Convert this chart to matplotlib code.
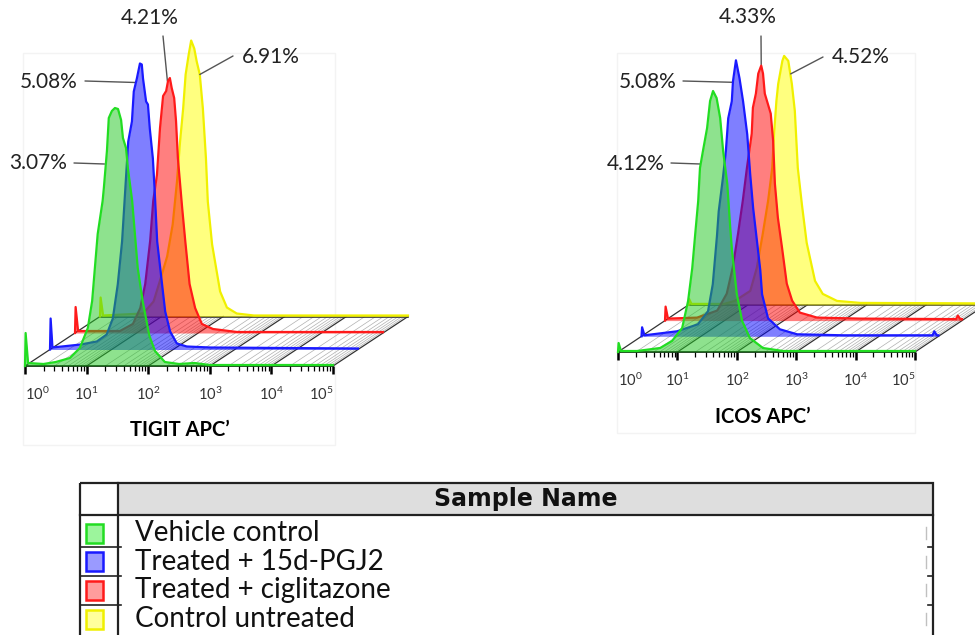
import numpy as np
import matplotlib.pyplot as plt
from matplotlib.patches import Rectangle
from matplotlib.ticker import LogLocator, NullFormatter

plt.rcParams['font.family'] = ['Lato', 'DejaVu Sans']
plt.rcParams['mathtext.fontset'] = 'custom'
plt.rcParams['mathtext.rm'] = 'Liberation Sans'

W, H = 975, 635

samples = ["Vehicle control", "Treated + 15d-PGJ2", "Treated + ciglitazone", "Control untreated"]
line_colors = ['#22dd22', '#1a1aff', '#ff1a1a', '#f0f000']
fill_colors = ['#1fc71f', '#0000ff', '#ff0000', '#ffff00']
swatch_fill = ['#9cf59c', '#9a9aff', '#ff9c9c', '#ffff9c']

# histogram outlines: position in decades (log10 APC), count
tigit_vehicle_dec = [0.0, 0.01, 0.05, 0.3, 0.5, 0.73, 0.89, 1.02, 1.09, 1.18, 1.26, 1.28, 1.33, 1.36, 1.41,
                     1.46, 1.51, 1.56, 1.59, 1.64, 1.67, 1.74, 1.83, 1.91, 2.02, 2.11, 2.27, 2.5, 2.75, 3.0, 5.0]
tigit_vehicle_cnt = [0, 33, 3, 2, 4, 8, 18, 38, 65, 132, 165, 178, 215, 248, 255,
                     258, 257, 246, 228, 218, 198, 165, 98, 65, 30, 15, 4, 2, 3, 1, 1]
tigit_15d_dec = [0.0, 0.01, 0.04, 0.5, 0.76, 0.92, 1.02, 1.10, 1.17, 1.22, 1.27, 1.33, 1.36, 1.41, 1.46, 1.49,
                 1.51, 1.56, 1.59, 1.62, 1.67, 1.70, 1.74, 1.79, 1.87, 1.95, 2.06, 2.22, 2.6, 5.0]
tigit_15d_cnt = [0, 31, 2, 5, 8, 15, 31, 65, 108, 158, 208, 228, 258, 271, 286, 285,
                 271, 248, 245, 221, 191, 158, 108, 81, 38, 18, 6, 3, 2, 1]
tigit_cig_dec = [0.0, 0.01, 0.05, 0.73, 0.94, 1.06, 1.14, 1.22, 1.27, 1.33, 1.38, 1.43, 1.48, 1.51,
                 1.54, 1.57, 1.61, 1.64, 1.67, 1.74, 1.79, 1.86, 1.95, 2.06, 2.24, 2.63, 5.0]
tigit_cig_cnt = [0, 26, 2, 2, 9, 25, 49, 92, 132, 158, 205, 237, 242, 252,
                 255, 245, 235, 212, 175, 125, 92, 49, 25, 9, 4, 1, 1]
tigit_ctrl_dec = [0.0, 0.01, 0.05, 0.7, 0.87, 0.97, 1.09, 1.18, 1.25, 1.30, 1.35, 1.39, 1.44, 1.48,
                  1.53, 1.57, 1.62, 1.67, 1.72, 1.75, 1.82, 1.95, 2.06, 2.22, 2.5, 5.0]
tigit_ctrl_cnt = [0, 19, 1, 3, 15, 35, 60, 92, 135, 175, 208, 242, 262, 276,
                  268, 255, 242, 208, 158, 115, 72, 25, 9, 3, 1, 1]

icos_vehicle_dec = [0.0, 0.01, 0.05, 0.32, 0.71, 0.91, 1.08, 1.18, 1.25, 1.30, 1.35, 1.38, 1.43, 1.50,
                    1.55, 1.60, 1.66, 1.72, 1.77, 1.84, 1.89, 1.92, 2.00, 2.09, 2.22, 2.44, 2.78, 5.0]
icos_vehicle_cnt = [0, 9, 1, 1, 4, 11, 24, 51, 84, 118, 151, 184, 201, 224,
                    251, 261, 254, 234, 201, 168, 124, 101, 58, 31, 14, 4, 1, 1]
icos_15d_dec = [0.0, 0.01, 0.05, 0.6, 0.95, 1.12, 1.20, 1.27, 1.30, 1.37, 1.42, 1.46, 1.52, 1.54, 1.59,
                1.65, 1.71, 1.78, 1.83, 1.88, 1.95, 2.00, 2.03, 2.13, 2.33, 2.62, 3.4, 4.9, 4.93, 4.97, 5.0]
icos_15d_cnt = [0, 9, 1, 5, 12, 25, 52, 100, 125, 158, 185, 218, 235, 255, 276,
                258, 235, 202, 162, 128, 92, 66, 42, 18, 7, 2, 1, 1, 5, 1, 1]
icos_cig_dec = [0.0, 0.01, 0.05, 0.54, 0.88, 1.04, 1.14, 1.23, 1.31, 1.38, 1.46, 1.48, 1.53, 1.57, 1.62, 1.65,
                1.68, 1.73, 1.78, 1.82, 1.85, 1.90, 1.97, 2.05, 2.14, 2.27, 2.56, 3.28, 4.9, 4.93, 4.97, 5.0]
icos_cig_cnt = [0, 14, 2, 3, 10, 27, 53, 87, 120, 153, 187, 213, 227, 247, 255, 247,
                227, 217, 207, 180, 137, 103, 73, 37, 20, 8, 3, 2, 1.5, 5, 1.5, 1.5]
icos_ctrl_dec = [0.0, 0.01, 0.05, 0.6, 0.78, 1.04, 1.15, 1.25, 1.34, 1.41, 1.44, 1.48, 1.51, 1.58, 1.61,
                 1.68, 1.74, 1.79, 1.84, 1.91, 1.99, 2.13, 2.26, 2.50, 2.89, 5.0]
icos_ctrl_cnt = [0, 6, 1, 1, 4, 14, 37, 71, 104, 137, 171, 204, 221, 244, 249,
                 244, 221, 194, 137, 100, 62, 24, 11, 4, 2, 1.5]

tigit_pct = ["3.07%", "5.08%", "4.21%", "6.91%"]
icos_pct = ["4.12%", "5.08%", "4.33%", "4.52%"]

tigit = [(tigit_vehicle_dec, tigit_vehicle_cnt), (tigit_15d_dec, tigit_15d_cnt),
         (tigit_cig_dec, tigit_cig_cnt), (tigit_ctrl_dec, tigit_ctrl_cnt)]
icos = [(icos_vehicle_dec, icos_vehicle_cnt), (icos_15d_dec, icos_15d_cnt),
        (icos_cig_dec, icos_cig_cnt), (icos_ctrl_dec, icos_ctrl_cnt)]

fig = plt.figure(figsize=(W / 100, H / 100), dpi=100)

# overlay in pixel units (top-left origin) for text, table and frames
over = fig.add_axes([0, 0, 1, 1])
over.set_xlim(0, W)
over.set_ylim(H, 0)
over.axis('off')


def panel(x0, base, w, dx, dy, curves):
    ax = fig.add_axes([x0 / W, (H - base) / H, w / W, 300 / H])
    ax.set_xscale('log')
    ax.set_xlim(1, 1e5)
    ax.set_ylim(0, 300)
    ax.patch.set_alpha(0)
    s = dx / (w / 5.0)   # depth shift of one layer, in decades
    back = len(curves) - 1
    shift = 10 ** (back * s)

    # hatched floor
    for d in range(5):
        for m in range(1, 10):
            t = m * 10.0 ** d
            major = m == 1
            ax.plot([t, t * shift], [0, back * dy], color='#333333' if major else '#b0b0b0',
                    lw=0.9 if major else 0.5, clip_on=False, zorder=1)
    ax.plot([1e5, 1e5 * shift], [0, back * dy], color='#333333', lw=0.9, clip_on=False, zorder=1)
    ax.plot([shift, 1e5 * shift], [back * dy, back * dy], color='#333333', lw=1.2, clip_on=False, zorder=1)

    for k in range(back, -1, -1):
        u, c = curves[k]
        x = 10 ** (np.array(u) + k * s)
        y0 = k * dy
        y = y0 + np.array(c)
        z = 2 + (back - k)
        ax.fill_between(x, y0, y, color=fill_colors[k], alpha=0.5, lw=0, clip_on=False, zorder=z)
        ax.plot(x, y, color=line_colors[k], lw=1.6, clip_on=False, zorder=z + 0.5)

    ax.set_xticks(10.0 ** np.arange(6), labels=[r'$\mathregular{10^{%d}}$' % i for i in range(6)])
    ax.xaxis.set_minor_locator(LogLocator(base=10, subs=np.arange(2, 10)))
    ax.xaxis.set_minor_formatter(NullFormatter())
    ax.tick_params(axis='x', which='major', length=6, width=1.8, direction='out', pad=8,
                   labelsize=10.5, labelcolor='#333333')
    ax.tick_params(axis='x', which='minor', length=3.5, width=0.9, direction='out')
    labs = ax.get_xticklabels()
    labs[0].set_ha('left')
    labs[-1].set_ha('right')
    ax.yaxis.set_visible(False)
    for side in ['left', 'top', 'right']:
        ax.spines[side].set_visible(False)
    ax.spines['bottom'].set_linewidth(1.2)
    return ax, s


def leader(ax, s, dy, k, u, c, start):
    ax.annotate('', xy=(10 ** (u + k * s), k * dy + c), xytext=start, textcoords=over.transData,
                arrowprops=dict(arrowstyle='-', color='#555555', lw=1, shrinkA=0, shrinkB=0),
                annotation_clip=False)


# faint frames round the two plots
over.add_patch(Rectangle((23, 53), 312, 392, fill=False, ec='#f3f3f3', lw=1))
over.add_patch(Rectangle((617, 53), 298, 380, fill=False, ec='#f3f3f3', lw=1))

# TIGIT panel
ax1, s1 = panel(25, 366, 308, 25, 16.5, tigit)
txt = dict(fontsize=15, color='#222222', va='center')
over.text(67, 163, tigit_pct[0], ha='right', **txt)
leader(ax1, s1, 16.5, 0, 1.29, 202, (74, 163))
over.text(78, 82, tigit_pct[1], ha='right', **txt)
leader(ax1, s1, 16.5, 1, 1.39, 267, (85, 81))
over.text(150, 18, tigit_pct[2], ha='center', **txt)
leader(ax1, s1, 16.5, 2, 1.50, 252, (163, 36))
over.text(242, 57, tigit_pct[3], ha='left', **txt)
leader(ax1, s1, 16.5, 3, 1.62, 242, (233, 56))
over.text(180, 430, 'TIGIT APC\u2019', fontsize=14.5, fontweight='bold', ha='center', va='center')

# ICOS panel
ax2, s2 = panel(618, 352, 297, 23.5, 15.7, icos)
over.text(665, 164, icos_pct[0], ha='right', **txt)
leader(ax2, s2, 15.7, 0, 1.39, 188, (671, 163))
over.text(677, 82, icos_pct[1], ha='right', **txt)
leader(ax2, s2, 15.7, 1, 1.54, 254, (683, 81))
over.text(748, 17, icos_pct[2], ha='center', **txt)
leader(ax2, s2, 15.7, 2, 1.62, 256, (761, 36))
over.text(832, 57, icos_pct[3], ha='left', **txt)
leader(ax2, s2, 15.7, 3, 1.72, 231, (823, 57))
over.text(763, 417, 'ICOS APC\u2019', fontsize=14.5, fontweight='bold', ha='center', va='center')

# sample table
tl, tr, tt, hb, dv = 80, 933, 483, 515, 118
over.add_patch(Rectangle((dv, tt), tr - dv, hb - tt, fc='#dedede', ec='none'))
over.add_patch(Rectangle((tl, tt), tr - tl, H + 10 - tt, fill=False, ec='#222222', lw=1.6, clip_on=False))
over.plot([tl, tr], [hb, hb], color='#222222', lw=1.6)
over.plot([dv, dv], [tt, H + 5], color='#222222', lw=1.6)
over.text((dv + tr) / 2, 499, 'Sample Name', fontfamily='DejaVu Sans', fontweight='bold',
          fontsize=17, ha='center', va='center', color='#111111')
pitch = 28.7
for i, name in enumerate(samples):
    yc = 533 + pitch * i
    over.add_patch(Rectangle((86, yc - 9.5), 17, 19, fc=swatch_fill[i], ec=line_colors[i], lw=1.8))
    over.text(135, yc, name, fontsize=20, va='center', color='#111111')
    over.plot([926, 926], [yc - 6, yc + 6], color='#c0c0c0', lw=1)
    if i < len(samples) - 1:
        ys = yc + pitch / 2
        over.plot([tl, dv + 3], [ys, ys], color='#222222', lw=1.2)
        over.plot([tr - 5, tr], [ys, ys], color='#222222', lw=1.2)

fig.savefig('out.png', dpi=100)
